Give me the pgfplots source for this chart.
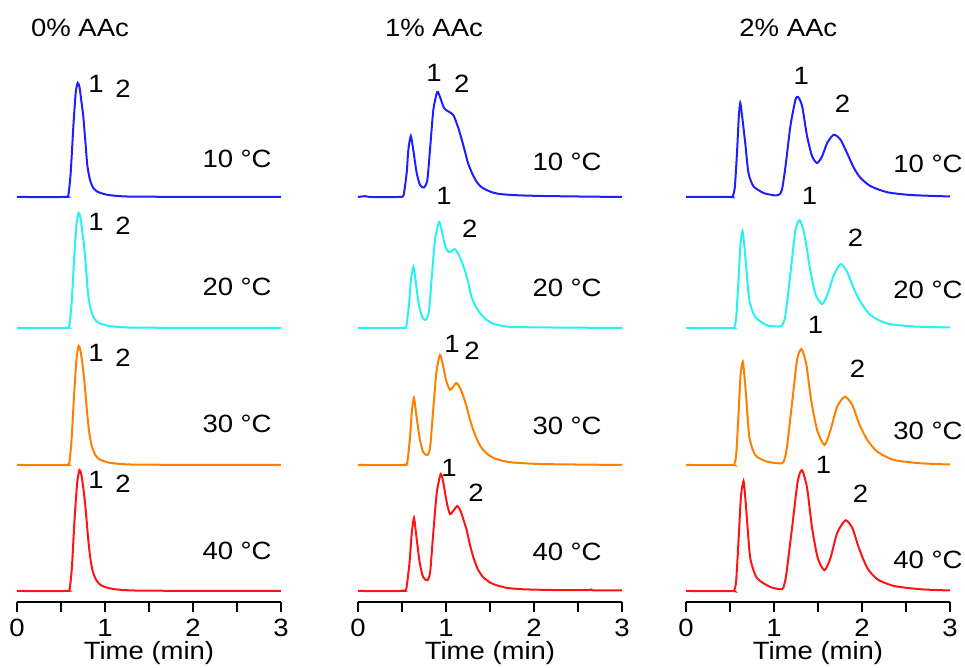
\documentclass[border=0pt]{standalone}
\usepackage{fontspec}
\setmainfont[FakeStretch=1.1]{Liberation Sans}
\usepackage{pgfplots}
\pgfplotsset{compat=1.18}

\definecolor{cblue}{RGB}{30,30,255}
\definecolor{ccyan}{RGB}{40,240,245}
\definecolor{corange}{RGB}{255,128,0}
\definecolor{cred}{RGB}{255,20,20}
\newcommand\lbl{\fontsize{12.5}{14}\selectfont}

\pgfplotsset{
  panel/.style={
    scale only axis, width=132pt, height=281pt,
    xmin=0, xmax=3, ymin=0, ymax=562,
    axis x line=bottom, axis y line=none,
    axis line style={-, line width=1pt, black},
    xtick={0,1,2,3}, minor xtick={0.5,1.5,2.5},
    tick align=outside, major tick length=5pt, minor tick length=5pt,
    tick style={line width=1pt, black}, minor tick style={line width=1pt, black},
    tick label style={font=\lbl},
    /pgf/number format/assume math mode=true,
    xlabel={Time (min)},
    xlabel style={at={(axis description cs:0.5,0)}, anchor=base, yshift=-29pt, font=\lbl},
    clip=false,
    every axis plot/.append style={line width=1pt, smooth, tension=0.4},
  },
}
\tikzset{
  lab/.style={anchor=base, font=\lbl, inner sep=0pt},
  temp/.style={anchor=base east, font=\lbl, inner sep=0pt},
}

\begin{document}
\begin{tikzpicture}
\useasboundingbox (0,0) rectangle (482.5pt,334pt);

% ---- 0% AAc ----
\begin{axis}[panel, at={(8.5pt,33pt)}, anchor=south west]
\addplot[cblue] table[row sep=\\, y expr=\thisrow{h}+405] {t h\\
0 0\\ 0.54 0\\ 0.57 0.4\\ 0.585 2.5\\ 0.61 24\\ 0.64 70\\ 0.667 104\\ 0.69 114\\ 0.71 110\\ 0.73 97\\ 0.754 80\\ 0.78 52\\ 0.80 31\\ 0.83 17\\ 0.867 9\\ 0.92 5\\ 1.02 2.3\\ 1.15 1\\ 1.4 0.3\\ 3 0\\};
\addplot[ccyan] table[row sep=\\, y expr=\thisrow{h}+274] {t h\\
0 0\\ 0.55 0\\ 0.58 0.4\\ 0.595 2.5\\ 0.62 24\\ 0.65 70\\ 0.677 104\\ 0.70 115\\ 0.72 111\\ 0.74 98\\ 0.764 81\\ 0.79 53\\ 0.81 32\\ 0.84 18\\ 0.877 9.5\\ 0.93 5\\ 1.03 2.3\\ 1.16 1\\ 1.4 0.3\\ 3 0\\};
\addplot[corange] table[row sep=\\, y expr=\thisrow{h}+137] {t h\\
0 0\\ 0.55 0\\ 0.58 0.4\\ 0.595 2.5\\ 0.62 25\\ 0.65 72\\ 0.677 107\\ 0.70 119\\ 0.72 115\\ 0.745 100\\ 0.77 80\\ 0.795 54\\ 0.82 33\\ 0.85 19\\ 0.89 10\\ 0.94 5.5\\ 1.04 2.5\\ 1.18 1\\ 1.45 0.3\\ 3 0\\};
\addplot[cred] table[row sep=\\, y expr=\thisrow{h}+11] {t h\\
0 0\\ 0.555 0\\ 0.585 0.4\\ 0.60 2.5\\ 0.625 25\\ 0.655 73\\ 0.685 109\\ 0.71 121\\ 0.73 117\\ 0.755 102\\ 0.78 82\\ 0.805 56\\ 0.83 35\\ 0.86 20\\ 0.90 11\\ 0.95 6\\ 1.05 2.7\\ 1.2 1\\ 1.5 0.3\\ 3 0\\};
\node[lab] at (axis cs:0.716,565) {0\% AAc};
\node[temp] at (axis cs:2.898,434) {10 °C};
\node[temp] at (axis cs:2.898,306) {20 °C};
\node[temp] at (axis cs:2.898,169) {30 °C};
\node[temp] at (axis cs:2.898,42) {40 °C};
\node[lab] at (axis cs:0.898,509) {1};
\node[lab] at (axis cs:1.205,504) {2};
\node[lab] at (axis cs:0.898,371.5) {1};
\node[lab] at (axis cs:1.205,367.5) {2};
\node[lab] at (axis cs:0.898,240.5) {1};
\node[lab] at (axis cs:1.205,235.5) {2};
\node[lab] at (axis cs:0.898,113.5) {1};
\node[lab] at (axis cs:1.205,109.5) {2};
\end{axis}

% ---- 1% AAc ----
\begin{axis}[panel, at={(179pt,33pt)}, anchor=south west]
\addplot[cblue] table[row sep=\\, y expr=\thisrow{h}+405] {t h\\
0 0\\ 0.08 0.8\\ 0.15 0\\ 0.47 0\\ 0.50 0.4\\ 0.52 2.5\\ 0.553 24\\ 0.572 47\\ 0.60 61\\ 0.628 47\\ 0.667 24\\ 0.705 12\\ 0.75 9.5\\ 0.788 17\\ 0.818 47\\ 0.856 87\\ 0.90 105\\ 0.932 100\\ 0.977 89\\ 1.027 85.5\\ 1.083 82\\ 1.14 69\\ 1.18 57\\ 1.22 44\\ 1.25 34\\ 1.30 23\\ 1.35 15\\ 1.40 10\\ 1.46 7\\ 1.53 4.5\\ 1.61 3\\ 1.75 2\\ 1.88 1.5\\ 2.1 1\\ 2.5 0.5\\ 3 0\\};
\addplot[ccyan] table[row sep=\\, y expr=\thisrow{h}+274] {t h\\
0 0\\ 0.50 0\\ 0.53 0.4\\ 0.55 2.5\\ 0.58 24\\ 0.60 47\\ 0.63 61\\ 0.655 47\\ 0.69 24\\ 0.73 11\\ 0.77 8\\ 0.805 16\\ 0.835 47\\ 0.875 88\\ 0.92 106\\ 0.95 98\\ 0.99 82\\ 1.03 76\\ 1.065 77\\ 1.10 79\\ 1.14 74\\ 1.18 66\\ 1.22 56\\ 1.26 43\\ 1.29 31\\ 1.34 21\\ 1.39 14.5\\ 1.45 9\\ 1.53 4.5\\ 1.65 2\\ 1.76 1\\ 2.2 0.5\\ 3 0\\};
\addplot[corange] table[row sep=\\, y expr=\thisrow{h}+137] {t h\\
0 0\\ 0.51 0\\ 0.54 0.4\\ 0.56 2.5\\ 0.59 26\\ 0.61 52\\ 0.636 67\\ 0.66 52\\ 0.70 27\\ 0.74 13\\ 0.79 10\\ 0.82 18\\ 0.85 50\\ 0.89 92\\ 0.93 110\\ 0.96 102\\ 1.00 85\\ 1.045 75\\ 1.08 78\\ 1.12 82\\ 1.16 77\\ 1.20 68\\ 1.235 58\\ 1.27 46\\ 1.31 35\\ 1.36 24\\ 1.405 17\\ 1.47 11\\ 1.54 7\\ 1.65 4\\ 1.76 2.5\\ 2.0 1.2\\ 2.26 0.7\\ 3 0\\};
\addplot[cred] table[row sep=\\, y expr=\thisrow{h}+11] {t h\\
0 0\\ 0.50 0\\ 0.53 0.4\\ 0.55 2.5\\ 0.585 28\\ 0.61 57\\ 0.636 73\\ 0.66 57\\ 0.70 29\\ 0.74 14\\ 0.79 10.7\\ 0.82 19\\ 0.85 52\\ 0.895 98\\ 0.94 117\\ 0.97 108\\ 1.01 88\\ 1.045 77\\ 1.09 81\\ 1.13 85\\ 1.17 79\\ 1.20 71\\ 1.235 61\\ 1.27 47\\ 1.31 34\\ 1.36 22\\ 1.42 14\\ 1.50 8.5\\ 1.575 5.7\\ 1.70 3\\ 1.88 1.7\\ 2.2 1\\ 2.6 0.8\\ 2.65 1.5\\ 2.68 0.6\\ 3 0.5\\};
\node[lab] at (axis cs:0.864,565) {1\% AAc};
\node[temp] at (axis cs:2.773,431) {10 °C};
\node[temp] at (axis cs:2.773,305) {20 °C};
\node[temp] at (axis cs:2.773,167) {30 °C};
\node[temp] at (axis cs:2.773,41) {40 °C};
\node[lab] at (axis cs:0.864,520) {1};
\node[lab] at (axis cs:1.18,509) {2};
\node[lab] at (axis cs:0.977,397) {1};
\node[lab] at (axis cs:1.27,364) {2};
\node[lab] at (axis cs:1.068,249) {1};
\node[lab] at (axis cs:1.295,242) {2};
\node[lab] at (axis cs:1.034,125) {1};
\node[lab] at (axis cs:1.34,100) {2};
\end{axis}

% ---- 2% AAc ----
\begin{axis}[panel, at={(343pt,33pt)}, anchor=south west]
\addplot[cblue] table[row sep=\\, y expr=\thisrow{h}+405] {t h\\
0 0.2\\ 0.50 0\\ 0.53 0.5\\ 0.555 10\\ 0.58 45\\ 0.60 80\\ 0.616 94\\ 0.635 83\\ 0.673 54\\ 0.71 24\\ 0.767 10.7\\ 0.88 4\\ 0.95 2.5\\ 1.015 1.5\\ 1.06 2.5\\ 1.09 7\\ 1.13 30\\ 1.186 70.7\\ 1.243 97\\ 1.274 100\\ 1.32 90.7\\ 1.376 60.7\\ 1.433 40.7\\ 1.49 34\\ 1.547 40.7\\ 1.604 54\\ 1.68 62.3\\ 1.756 57.3\\ 1.83 44\\ 1.908 29\\ 1.984 19\\ 2.10 10.7\\ 2.29 4.7\\ 2.55 2\\ 2.93 0.7\\ 3 0.5\\};
\addplot[ccyan] table[row sep=\\, y expr=\thisrow{h}+274] {t h\\
0 0\\ 0.52 0\\ 0.547 0.5\\ 0.57 10\\ 0.595 45\\ 0.62 85\\ 0.642 97\\ 0.66 85\\ 0.684 61\\ 0.72 27.7\\ 0.787 11\\ 0.92 2.7\\ 1.07 1.5\\ 1.10 4\\ 1.13 12.7\\ 1.186 54\\ 1.243 97.7\\ 1.292 107.7\\ 1.345 94\\ 1.406 61\\ 1.47 34\\ 1.547 24\\ 1.604 32.7\\ 1.68 52.7\\ 1.756 64\\ 1.832 56\\ 1.908 39\\ 1.984 26\\ 2.098 12.7\\ 2.29 4.4\\ 2.59 1.5\\ 3 0.5\\};
\addplot[corange] table[row sep=\\, y expr=\thisrow{h}+137] {t h\\
0 0\\ 0.52 0\\ 0.547 0.5\\ 0.57 10\\ 0.595 48\\ 0.62 90\\ 0.646 103\\ 0.665 88\\ 0.684 68\\ 0.72 28\\ 0.787 10\\ 0.92 3.3\\ 1.09 1.7\\ 1.12 6\\ 1.148 18\\ 1.205 61.7\\ 1.262 105\\ 1.311 116\\ 1.365 101.7\\ 1.422 65\\ 1.49 35\\ 1.574 20\\ 1.642 35\\ 1.718 58.3\\ 1.805 68.3\\ 1.89 60\\ 1.965 41.7\\ 2.06 25\\ 2.175 13.3\\ 2.364 5\\ 2.67 1.7\\ 3 0.5\\};
\addplot[cred] table[row sep=\\, y expr=\thisrow{h}+11] {t h\\
0 0\\ 0.52 0\\ 0.547 0.5\\ 0.57 10\\ 0.60 55\\ 0.625 95\\ 0.654 110\\ 0.672 95\\ 0.692 73\\ 0.73 33\\ 0.806 13\\ 0.958 4\\ 1.09 1.7\\ 1.115 6\\ 1.14 16.7\\ 1.205 63\\ 1.27 110\\ 1.319 120.7\\ 1.376 103\\ 1.433 63\\ 1.497 33\\ 1.574 20.7\\ 1.642 33\\ 1.718 58\\ 1.813 70.7\\ 1.89 63\\ 1.965 43\\ 2.06 23\\ 2.175 11.7\\ 2.364 5\\ 2.67 1.7\\ 3 0.5\\};
\node[lab] at (axis cs:1.163,565) {2\% AAc};
\node[temp] at (axis cs:3.147,429) {10 °C};
\node[temp] at (axis cs:3.147,303) {20 °C};
\node[temp] at (axis cs:3.147,162) {30 °C};
\node[temp] at (axis cs:3.147,33) {40 °C};
\node[lab] at (axis cs:1.311,517) {1};
\node[lab] at (axis cs:1.779,489) {2};
\node[lab] at (axis cs:1.403,397) {1};
\node[lab] at (axis cs:1.927,355) {2};
\node[lab] at (axis cs:1.471,268) {1};
\node[lab] at (axis cs:1.95,224) {2};
\node[lab] at (axis cs:1.562,128) {1};
\node[lab] at (axis cs:1.984,99) {2};
\end{axis}
\end{tikzpicture}
\end{document}
